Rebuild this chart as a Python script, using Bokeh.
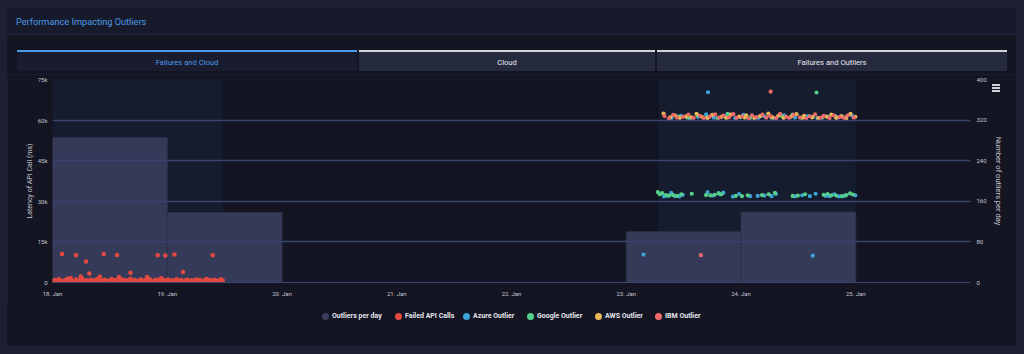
import pandas as pd
from bokeh.plotting import figure
from bokeh.models import Range1d, LinearAxis, FixedTicker, DatetimeTickFormatter, Div
from bokeh.layouts import column
from bokeh.embed import file_html
from bokeh.resources import INLINE

# ---------------- data ----------------
title_text = "Performance Impacting Outliers"
tab_labels = ["Failures and Cloud", "Cloud", "Failures and Outliers"]

day_ticks = ["2021-01-18", "2021-01-19", "2021-01-20", "2021-01-21",
             "2021-01-22", "2021-01-23", "2021-01-24", "2021-01-25"]
x_start = "2021-01-18"
x_end = "2021-01-26"

bar_days = ["2021-01-18", "2021-01-19", "2021-01-23", "2021-01-24"]
outliers_per_day = [286, 138, 100, 139]

# highlighted time bands (hours after 18 Jan 00:00)
band_start_hours = [0.0, 126.8]
band_end_hours = [35.6, 168.0]

left_ticks = [0, 15000, 30000, 45000, 60000, 75000]
left_tick_labels = ["0", "15k", "30k", "45k", "60k", "75k"]
right_ticks = [0, 80, 160, 240, 320, 400]

# Failed API calls: (hours after 18 Jan 00:00, latency ms)
failed_base = [
    (0.1, 620), (0.5, 950), (0.9, 410), (1.3, 1200), (1.8, 700), (2.2, 350), (2.7, 880),
    (3.1, 1350), (3.5, 520), (4.0, 760), (4.4, 300), (4.9, 1100), (5.3, 640), (5.8, 900),
    (6.2, 1450), (6.6, 480), (7.1, 820), (7.5, 380), (8.0, 1050), (8.4, 700), (8.8, 560),
    (9.3, 1250), (9.7, 430), (10.2, 860), (10.6, 650), (11.0, 1000), (11.5, 340), (11.9, 780),
    (12.4, 1300), (12.8, 590), (13.2, 900), (13.7, 450), (14.1, 720), (14.6, 1150), (15.0, 380),
    (15.4, 850), (15.9, 640), (16.3, 1400), (16.8, 500), (17.2, 930), (17.6, 310), (18.1, 760),
    (18.5, 1080), (19.0, 560), (19.4, 880), (19.8, 420), (20.3, 1200), (20.7, 690), (21.2, 350),
    (21.6, 980), (22.0, 610), (22.5, 1320), (22.9, 470), (23.4, 800), (23.8, 560), (24.2, 1100),
    (24.7, 390), (25.1, 870), (25.6, 700), (26.0, 1240), (26.4, 450), (26.9, 920), (27.3, 330),
    (27.8, 760), (28.2, 1060), (28.6, 580), (29.1, 850), (29.5, 400), (30.0, 1150), (30.4, 630),
    (30.8, 980), (31.3, 300), (31.7, 720), (32.2, 1280), (32.6, 540), (33.0, 880), (33.5, 420),
    (33.9, 1000), (34.4, 650), (34.8, 360), (35.2, 1180), (35.6, 700),
]
failed_spikes = [
    (2.0, 10500), (3.8, 1700), (4.9, 10100), (5.9, 2200), (7.0, 7800), (7.7, 3300),
    (9.9, 2100), (10.7, 10500), (13.5, 10200), (13.9, 2000), (16.3, 3600), (19.8, 2000),
    (22.0, 10100), (22.8, 1600), (23.6, 10000), (25.5, 10300), (27.3, 3900), (33.5, 10100),
]

azure_outlier = [
    (123.6, 10300), (137.1, 70300), (159.0, 9900),
    (129.5, 60800), (131.5, 61600), (133.3, 60600), (135.0, 61200), (136.7, 62100),
    (138.3, 60900), (140.6, 61400), (142.8, 60700), (144.5, 61900), (147.6, 60800),
    (149.0, 61300), (151.0, 60600), (153.0, 61800), (155.3, 60900), (158.0, 61500),
    (160.0, 60700), (162.2, 61200), (164.2, 60900), (167.2, 61600),
    (127.9, 31800), (128.6, 32000), (129.4, 33100), (130.2, 31900), (131.1, 31800),
    (131.8, 32400), (137.0, 33300), (138.0, 32100), (139.6, 32500), (140.3, 33200),
    (142.3, 31700), (143.6, 32700), (145.9, 31900), (147.5, 32000), (148.9, 32100),
    (150.4, 31900), (151.3, 32700), (155.3, 31800), (156.8, 32200), (158.4, 31900),
    (159.6, 32800), (161.7, 32000), (162.5, 31900), (163.5, 32600), (164.5, 31800),
    (165.6, 32000), (167.9, 32200),
]
google_outlier = [
    (159.8, 70200),
    (130.9, 61300), (132.8, 60900), (134.9, 61800), (136.9, 61000), (139.1, 60700),
    (141.2, 62300), (143.9, 61100), (145.9, 60800), (148.2, 61600), (150.4, 60900),
    (152.6, 61400), (154.8, 62000), (156.6, 60800), (159.0, 61200), (161.0, 60900),
    (163.7, 61500), (165.8, 61000),
    (126.6, 33400), (127.0, 32600), (127.5, 33000), (128.3, 32300), (129.0, 32100),
    (129.8, 32300), (130.6, 32000), (131.5, 32600), (133.7, 32800), (136.7, 32300),
    (137.6, 32200), (138.5, 32400), (139.3, 33000), (139.9, 32600), (142.9, 32000),
    (144.2, 31900), (145.4, 32200), (148.4, 32300), (149.8, 32600), (151.1, 33100),
    (154.8, 32000), (155.9, 32100), (157.4, 32600), (161.3, 32400), (162.1, 32700),
    (162.9, 32200), (163.9, 32100), (165.1, 31900), (166.0, 32300), (166.8, 32900),
    (167.4, 32500),
]
aws_outlier = [
    (127.8, 62400), (129.2, 61000), (130.2, 61700), (131.2, 60800), (132.5, 61400),
    (133.6, 61000), (134.7, 62300), (135.9, 61100), (137.0, 60700), (138.0, 61900),
    (139.9, 61200), (140.9, 60800), (141.9, 62000), (143.6, 61300), (144.8, 60900),
    (145.1, 61800), (146.8, 60700), (148.0, 61500), (149.7, 62400), (150.6, 61000),
    (151.8, 61600), (152.9, 60800), (154.5, 61300), (155.6, 62200), (156.9, 60900),
    (157.2, 61600), (158.9, 61000), (160.2, 60700), (161.9, 61300), (162.9, 62000),
    (163.9, 60800), (165.0, 61500), (166.0, 60600), (166.9, 62300), (167.9, 61200),
]
ibm_outlier = [
    (135.6, 10100), (150.2, 70500),
    (128.0, 61500), (128.9, 60600), (129.8, 61900), (130.6, 60900), (131.9, 61200),
    (133.0, 62000), (134.1, 60800), (135.4, 61600), (136.2, 60700), (137.5, 61300),
    (138.6, 62100), (139.4, 60900), (140.3, 61700), (141.5, 61000), (142.4, 62200),
    (143.1, 60800), (144.2, 61400), (145.6, 60600), (146.3, 61800), (147.2, 61100),
    (148.5, 62000), (149.3, 60900), (150.1, 61500), (151.4, 60700), (152.2, 62300),
    (153.5, 61200), (154.1, 60800), (155.0, 61900), (156.3, 61000), (157.6, 60600),
    (158.4, 61400), (159.5, 62100), (160.7, 60900), (161.3, 61600), (162.5, 60700),
    (163.4, 61800), (164.6, 61100), (165.5, 60800), (166.3, 61700), (167.6, 60900),
]

legend_labels = ["Outliers per day", "Failed API Calls", "Azure Outlier",
                 "Google Outlier", "AWS Outlier", "IBM Outlier"]

# ---------------- style ----------------
FONT = "Roboto"
OUTER = "#1d1f33"
HEADER = "#171a2b"
BODY = "#131522"
BAND = "#141c2d"
BAR = "#353a58"
GRID = "#38446f"
TXT = "#c5c6d0"
BLUE_TXT = "#4c9be6"
C_BAR_LEG = "#3a3f60"
C_FAIL = "#e5493f"
C_AZURE = "#3fa2d8"
C_GOOGLE = "#55d08a"
C_AWS = "#e8b857"
C_IBM = "#f06a6a"

base = pd.Timestamp(x_start)


def to_dt(hours):
    return (base + pd.to_timedelta(list(hours), unit="h")).to_numpy()


def split(pairs):
    h, v = zip(*pairs)
    return to_dt(h), list(v)


def box(l, t, w, h, bg, extra="", content=""):
    return (f'<div style="position:absolute;left:{l}px;top:{t}px;width:{w}px;'
            f'height:{h}px;background:{bg};{extra}">{content}</div>')


# ---------------- header + tabs (HTML) ----------------
tab_left = [17, 359, 657]
tab_right = [357, 655, 1007]
tab_fill = ["#191c2e", "#262a3f", "#262a3f"]
tab_line = [BLUE_TXT, "#d4d6de", "#d4d6de"]
tab_txt = [BLUE_TXT, "#e8e8ee", "#e8e8ee"]

parts = [box(7, 8, 1009, 66, BODY), box(7, 8, 1009, 25, HEADER),
         box(7, 33, 1009, 2, "#1f2236"),
         box(16, 12, 400, 20, "transparent",
             f"line-height:20px;font-size:9.2px;color:{BLUE_TXT};white-space:nowrap;",
             title_text)]
for lab, l, r, fc, lc, tc in zip(tab_labels, tab_left, tab_right, tab_fill, tab_line, tab_txt):
    parts.append(box(l, 50, r - l, 21, fc,
                     f"border-top:2px solid {lc};color:{tc};font-size:7.6px;"
                     f"line-height:21px;text-align:center;white-space:nowrap;", lab))
# menu icon
parts.append(box(992, 84, 8, 2, "#d0d0d8",
                 "box-shadow:0 3px 0 #d0d0d8, 0 6px 0 #d0d0d8;z-index:20;"))
header_html = (f'<div style="position:relative;width:1024px;height:74px;background:{OUTER};'
               f'font-family:{FONT},sans-serif;overflow:visible;">' + "".join(parts) + "</div>")
header = Div(text=header_html, width=1024, height=74, margin=0,
             styles={"overflow": "visible", "z-index": "5"})

# ---------------- main chart ----------------
p = figure(width=1009, height=232, x_axis_type="datetime",
           x_range=Range1d(pd.Timestamp(x_start), pd.Timestamp(x_end)),
           y_range=Range1d(0, 75000), toolbar_location=None, output_backend="svg",
           min_border_left=45, min_border_right=46, min_border_top=5, min_border_bottom=24,
           background_fill_color=BODY, border_fill_color=BODY, outline_line_color=None,
           margin=(0, 8, 0, 7))
p.extra_y_ranges = {"cnt": Range1d(0, 400)}

# bands
p.quad(left=to_dt(band_start_hours), right=to_dt(band_end_hours), bottom=0, top=75000,
       fill_color=BAND, line_color=None, level="underlay")

# grid
p.xgrid.visible = False
p.ygrid.ticker = FixedTicker(ticks=left_ticks)
p.ygrid.grid_line_color = GRID
p.ygrid.grid_line_width = 1.5
p.ygrid.level = "glyph"

# bars
bar_x = (pd.to_datetime(bar_days) + pd.Timedelta(hours=12)).to_numpy()
p.vbar(x=bar_x, top=outliers_per_day, width=86400000, bottom=0, y_range_name="cnt",
       fill_color=BAR, line_color="#2c3049", line_width=1)

# scatter series
fx1, fy1 = split(failed_base)
fx2, fy2 = split(failed_spikes)
p.scatter(x=fx1, y=fy1, size=4.5, fill_color=C_FAIL, line_color=None)
p.scatter(x=fx2, y=fy2, size=4.5, fill_color=C_FAIL, line_color=None)
for pairs, col in [(azure_outlier, C_AZURE), (google_outlier, C_GOOGLE),
                   (aws_outlier, C_AWS), (ibm_outlier, C_IBM)]:
    xx, yy = split(pairs)
    p.scatter(x=xx, y=yy, size=4.2, fill_color=col, line_color=None)

# axes
xa = p.xaxis[0]
xa.ticker = FixedTicker(ticks=[pd.Timestamp(d).value // 10**6 for d in day_ticks])
xa.formatter = DatetimeTickFormatter(days="%d. %b", months="%d. %b", hours="%d. %b")
xa.major_tick_line_color = None
xa.minor_tick_line_color = None
xa.major_tick_out = 0
xa.minor_tick_out = 0
xa.axis_line_color = "#3b4670"
xa.major_label_text_font = FONT
xa.major_label_text_font_size = "6px"
xa.major_label_text_color = TXT
xa.major_label_standoff = 7

ya = p.yaxis[0]
ya.ticker = FixedTicker(ticks=left_ticks)
ya.major_label_overrides = dict(zip(left_ticks, left_tick_labels))
ya.axis_label = "Latency of API Call (ms)"

ra = LinearAxis(y_range_name="cnt", ticker=FixedTicker(ticks=right_ticks),
                axis_label="Number of outliers per day")
p.add_layout(ra, "right")

for ax, sz, so, lso in [(ya, "7px", 5, 1), (ra, "7.5px", 6, 4)]:
    ax.major_tick_line_color = None
    ax.minor_tick_line_color = None
    ax.major_tick_out = 0
    ax.minor_tick_out = 0
    ax.axis_line_color = None
    ax.major_label_text_font = FONT
    ax.major_label_text_font_size = "6px"
    ax.major_label_text_color = TXT
    ax.major_label_standoff = so
    ax.axis_label_text_font = FONT
    ax.axis_label_text_font_size = sz
    ax.axis_label_text_font_style = "normal"
    ax.axis_label_text_color = TXT
    ax.axis_label_standoff = lso

# ---------------- legend (HTML) ----------------
leg_colors = [C_BAR_LEG, C_FAIL, C_AZURE, C_GOOGLE, C_AWS, C_IBM]
leg_x = [325, 398, 466, 530, 598, 658]
lparts = [box(7, 0, 1009, 40, BODY)]
for lab, col, cx in zip(legend_labels, leg_colors, leg_x):
    lparts.append(box(cx - 3.5, 6.5, 7, 7, col, "border-radius:50%;"))
    lparts.append(box(cx + 7, 4, 80, 12, "transparent",
                      "line-height:12px;font-size:7px;font-weight:bold;color:#e6e6ee;"
                      "white-space:nowrap;", lab))
legend_html = (f'<div style="position:relative;width:1024px;height:48px;background:{OUTER};'
               f'font-family:{FONT},sans-serif;">' + "".join(lparts) + "</div>")
legend_div = Div(text=legend_html, width=1024, height=48, margin=0)

layout = column(header, p, legend_div, spacing=0, styles={"background-color": OUTER})

with open("out.html", "w") as f:
    f.write(file_html(layout, INLINE, title="Performance Impacting Outliers"))
